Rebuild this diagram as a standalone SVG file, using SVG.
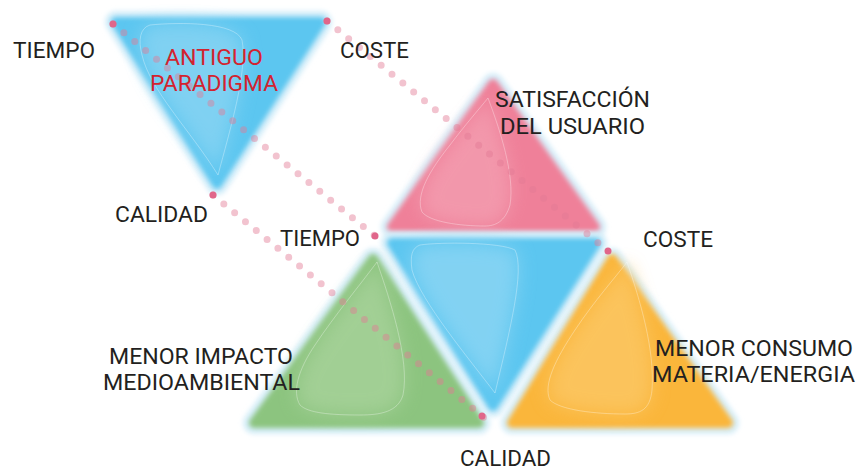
<svg xmlns="http://www.w3.org/2000/svg" width="856" height="470" viewBox="0 0 856 470">
<defs>
<filter id="soft" x="-10%" y="-10%" width="120%" height="120%"><feGaussianBlur stdDeviation="2.5"/></filter>
<filter id="halo" x="-10%" y="-10%" width="120%" height="120%"><feGaussianBlur stdDeviation="2.5"/></filter>
<filter id="blob" x="-30%" y="-30%" width="160%" height="160%"><feGaussianBlur stdDeviation="9"/></filter>
<style>
.lbl{font-family:Roboto,"Liberation Sans",sans-serif;font-size:22px;fill:#231f20}
.red{fill:#d3232f}
.halo{fill:#d6eef9;stroke:#d6eef9;stroke-width:22;stroke-linejoin:round}
.tri{stroke-width:10;stroke-linejoin:round}
.blue{fill:#5bc6f0;stroke:#5bc6f0}
.pink{fill:#ef8099;stroke:#ef8099}
.green{fill:#8cc47f;stroke:#8cc47f}
.orange{fill:#fab63a;stroke:#fab63a}
.inner{opacity:0.7}
.line{fill:none;stroke:#ffffff;stroke-width:0.7;stroke-opacity:0.45}
.dots{fill:none;stroke:#e27a95;stroke-opacity:0.45;stroke-width:7;stroke-linecap:round;stroke-dasharray:0 14}
.end{fill:#e0668a}
</style>
</defs>
<rect width="856" height="470" fill="#ffffff"/>

<g id="tri-antiguo">
<polygon class="halo" filter="url(#halo)" points="116,22 321,22 217,184"/>
<polygon class="tri blue" filter="url(#soft)" points="116,22 321,22 217,184"/>
<path class="inner" d="M150,25 C180,22 235,22 242,40 C248,70 230,130 218,175 C190,130 150,90 142,55 C138,40 140,28 150,25 Z" fill="#8fd6f3" filter="url(#blob)"/>
<path class="line" d="M150,25 C180,22 235,22 242,40 C248,70 230,130 218,175 C190,130 150,90 142,55 C138,40 140,28 150,25 Z"/>
</g>

<g id="tri-satisfaccion">
<polygon class="halo" filter="url(#halo)" points="493,84 392,227 595,227"/>
<polygon class="tri pink" filter="url(#soft)" points="493,84 392,227 595,227"/>
<path class="inner" d="M488,98 C500,130 515,175 510,205 C505,222 495,226 485,226 C460,226 430,222 422,212 C415,195 430,170 450,145 C465,125 480,108 488,98 Z" fill="#f4a2b4" filter="url(#blob)"/>
<path class="line" d="M488,98 C500,130 515,175 510,205 C505,222 495,226 485,226 C460,226 430,222 422,212 C415,195 430,170 450,145 C465,125 480,108 488,98 Z"/>
</g>

<g id="tri-centro">
<polygon class="halo" filter="url(#halo)" points="392,243 596,243 493,406"/>
<polygon class="tri blue" filter="url(#soft)" points="392,243 596,243 493,406"/>
<path class="inner" d="M420,245 C440,242 500,242 515,250 C525,270 510,330 495,393 C470,360 420,300 412,270 C410,255 412,248 420,245 Z" fill="#93d8f4" filter="url(#blob)"/>
<path class="line" d="M420,245 C440,242 500,242 515,250 C525,270 510,330 495,393 C470,360 420,300 412,270 C410,255 412,248 420,245 Z"/>
</g>

<g id="tri-medioambiental">
<polygon class="halo" filter="url(#halo)" points="373,259 254,423 479,423"/>
<polygon class="tri green" filter="url(#soft)" points="373,259 254,423 479,423"/>
<path class="inner" d="M377,262 C390,300 410,360 403,395 C398,412 380,415 360,415 C330,415 308,413 300,405 C292,392 298,370 315,345 C335,315 360,285 377,262 Z" fill="#abd49e" filter="url(#blob)"/>
<path class="line" d="M377,262 C390,300 410,360 403,395 C398,412 380,415 360,415 C330,415 308,413 300,405 C292,392 298,370 315,345 C335,315 360,285 377,262 Z"/>
</g>

<g id="tri-consumo">
<polygon class="halo" filter="url(#halo)" points="612,259 512,423 728,423"/>
<polygon class="tri orange" filter="url(#soft)" points="612,259 512,423 728,423"/>
<path class="inner" d="M627,262 C640,300 655,350 652,390 C650,410 640,414 625,414 C595,414 560,410 550,400 C543,385 555,360 575,330 C595,300 615,278 627,262 Z" fill="#fcc96a" filter="url(#blob)"/>
<path class="line" d="M627,262 C640,300 655,350 652,390 C650,410 640,414 625,414 C595,414 560,410 550,400 C543,385 555,360 575,330 C595,300 615,278 627,262 Z"/>
</g>

<g id="connectors">
<path class="dots" d="M113,24 L375,236"/>
<path class="dots" d="M213,195 L493,425"/>
<path class="dots" d="M327,21 L608,251"/>
<circle class="end" cx="113" cy="24" r="3.5"/>
<circle class="end" cx="375" cy="236" r="3.5"/>
<circle class="end" cx="213" cy="195" r="3.5"/>
<circle class="end" cx="482" cy="416" r="3.5"/>
<circle class="end" cx="327" cy="21" r="3.5"/>
<circle class="end" cx="608" cy="251" r="3.5"/>
</g>

<g id="labels">
<text class="lbl" x="13" y="58" textLength="82" lengthAdjust="spacingAndGlyphs">TIEMPO</text>
<text class="lbl" x="340" y="58" textLength="69" lengthAdjust="spacingAndGlyphs">COSTE</text>
<text class="lbl red" x="165" y="65" textLength="98" lengthAdjust="spacingAndGlyphs">ANTIGUO</text>
<text class="lbl red" x="150" y="91" textLength="128" lengthAdjust="spacingAndGlyphs">PARADIGMA</text>
<text class="lbl" x="495" y="107" textLength="155" lengthAdjust="spacingAndGlyphs">SATISFACCIÓN</text>
<text class="lbl" x="500" y="134" textLength="145" lengthAdjust="spacingAndGlyphs">DEL USUARIO</text>
<text class="lbl" x="115" y="222" textLength="93" lengthAdjust="spacingAndGlyphs">CALIDAD</text>
<text class="lbl" x="280" y="246" textLength="80" lengthAdjust="spacingAndGlyphs">TIEMPO</text>
<text class="lbl" x="643" y="247" textLength="70" lengthAdjust="spacingAndGlyphs">COSTE</text>
<text class="lbl" x="109" y="364" textLength="184" lengthAdjust="spacingAndGlyphs">MENOR IMPACTO</text>
<text class="lbl" x="103" y="390" textLength="197" lengthAdjust="spacingAndGlyphs">MEDIOAMBIENTAL</text>
<text class="lbl" x="655" y="356" textLength="198" lengthAdjust="spacingAndGlyphs">MENOR CONSUMO</text>
<text class="lbl" x="652" y="382" textLength="203" lengthAdjust="spacingAndGlyphs">MATERIA/ENERGIA</text>
<text class="lbl" x="460" y="466" textLength="91" lengthAdjust="spacingAndGlyphs">CALIDAD</text>
</g>
</svg>
